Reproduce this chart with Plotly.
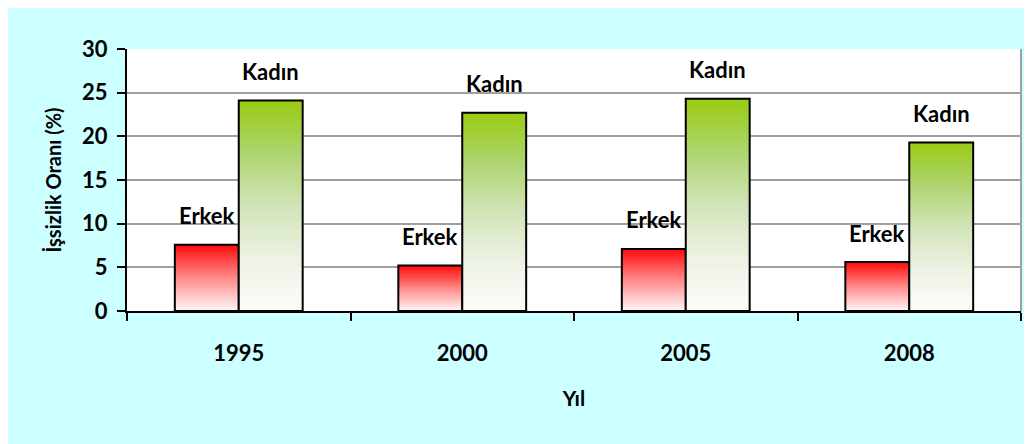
import plotly.graph_objects as go

# ---- data ----
years = ["1995", "2000", "2005", "2008"]
erkek = [7.6, 5.2, 7.1, 5.6]
kadin = [24.1, 22.7, 24.3, 19.3]
series_names = ["Erkek", "Kadın"]
y_ticks = [0, 5, 10, 15, 20, 25, 30]

# ---- style ----
W, H = 1024, 436          # page body adds an 8px offset
ML, MR, MT, MB = 119, 11, 41, 133
BAR_W = 0.286
FONT = "Lato"
CYAN = "#CCFFFF"
RED_SCALE = [[0, "#FFF6F6"], [0.5, "#FF8A8A"], [1, "#FF0A0A"]]
GREEN_SCALE = [[0, "#FCFCFA"], [0.25, "#EDF2E4"], [0.5, "#D2E4B8"],
               [0.75, "#AED46F"], [1, "#99CC11"]]

fig = go.Figure()


def add_bar(x0, x1, v, scale, name, year):
    fig.add_trace(go.Scatter(
        x=[x0, x0, x1, x1, x0], y=[0, v, v, 0, 0],
        mode="lines", fill="toself",
        line=dict(color="black", width=2),
        fillgradient=dict(type="vertical", colorscale=scale, start=0, stop=v),
        hoveron="fills+points", showlegend=False,
        name=f"{name} {year}", hoverinfo="text", text=f"{name} {year}: {v}",
    ))


annotations = []
for i, yr in enumerate(years):
    add_bar(i - BAR_W, i, erkek[i], RED_SCALE, series_names[0], yr)
    add_bar(i, i + BAR_W, kadin[i], GREEN_SCALE, series_names[1], yr)
    for xc, v, nm in ((i - BAR_W / 2, erkek[i], series_names[0]),
                      (i + BAR_W / 2, kadin[i], series_names[1])):
        annotations.append(dict(
            x=xc, y=v, xref="x", yref="y", text=nm, showarrow=False,
            yshift=29, xanchor="center", yanchor="middle",
            font=dict(family=FONT, size=22, color="black", weight="bold"),
        ))

shapes = [
    # right border of plot area
    dict(type="line", xref="paper", yref="paper", x0=1, x1=1, y0=0, y1=1,
         line=dict(color="#A0A0A0", width=2), layer="below"),
]

fig.update_layout(
    width=W, height=H,
    margin=dict(l=ML, r=MR, t=MT, b=MB, pad=0),
    paper_bgcolor=CYAN, plot_bgcolor="white",
    showlegend=False,
    annotations=annotations,
    shapes=shapes,
    font=dict(family=FONT, color="black"),
    xaxis=dict(
        range=[-0.5, len(years) - 0.5],
        tickmode="array", tickvals=list(range(len(years))), ticktext=years,
        ticks="", showgrid=False, zeroline=False,
        showline=True, linecolor="black", linewidth=2,
        tickfont=dict(family=FONT, size=22, color="black", weight="bold"),
        ticklabelstandoff=22,
        minor=dict(tickmode="array",
                   tickvals=[k - 0.5 for k in range(len(years) + 1)],
                   ticks="outside", ticklen=8, tickwidth=2, tickcolor="black",
                   showgrid=False),
        title=dict(text="Yıl", standoff=26,
                   font=dict(family=FONT, size=21, color="black", weight="bold")),
        fixedrange=True,
    ),
    yaxis=dict(
        range=[0, 30],
        tickmode="array", tickvals=y_ticks,
        ticks="outside", ticklen=8, tickwidth=2, tickcolor="black",
        showgrid=True, gridcolor="#A0A0A0", gridwidth=2,
        zeroline=False,
        showline=True, linecolor="black", linewidth=2,
        tickfont=dict(family=FONT, size=22, color="black", weight="bold"),
        ticklabelstandoff=5,
        title=dict(text="İşsizlik Oranı (%)", standoff=15,
                   font=dict(family=FONT, size=20, color="black", weight="bold")),
        fixedrange=True,
    ),
)

fig.write_html("out.html")
